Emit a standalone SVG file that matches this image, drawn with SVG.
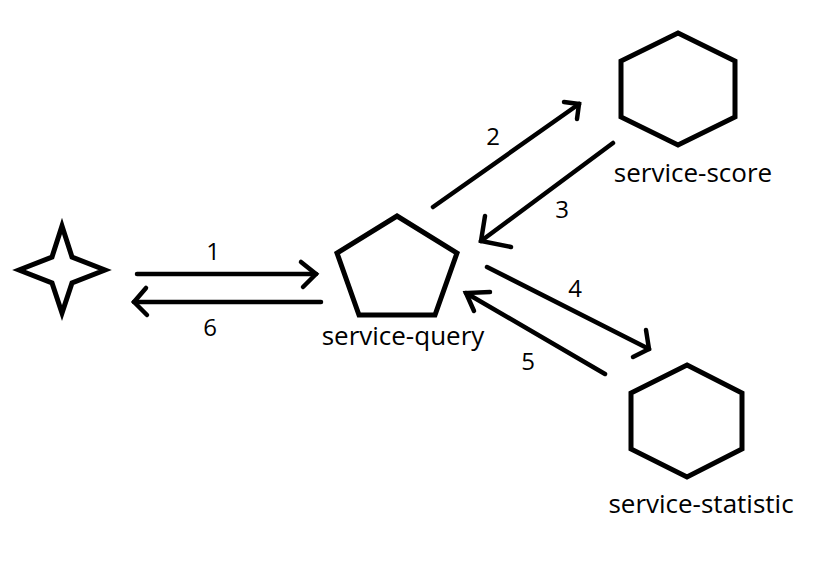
<svg xmlns="http://www.w3.org/2000/svg" width="840" height="565" viewBox="0 0 840 565">
<style>
.shape{fill:none;stroke:#000;stroke-width:5;stroke-linejoin:miter}
.con{fill:none;stroke:#000;stroke-width:4.5;stroke-linecap:round;stroke-linejoin:miter}
.lbl{font-family:"Open Sans","DejaVu Sans",sans-serif;font-size:26px;fill:#000;text-anchor:middle}
.num{font-family:"Open Sans","DejaVu Sans",sans-serif;font-size:24px;fill:#000;text-anchor:middle}
</style>
<rect width="840" height="565" fill="#fff"/>
<g id="client">
<polygon class="shape" points="62,226 72,257 105,270 72,283 62,313 52,283 19,270 52,257"/>
</g>
<g id="service-query">
<polygon class="shape" points="397,216 457,253 435,315 359,315 337,253"/>
<text class="lbl" x="403" y="345">service-query</text>
</g>
<g id="service-score">
<polygon class="shape" points="678,33 735,61 735,117 678,145 621,117 621,61"/>
<text class="lbl" x="693" y="182">service-score</text>
</g>
<g id="service-statistic">
<polygon class="shape" points="687,365 742,393 742,449 687,477 631,449 631,393"/>
<text class="lbl" x="701" y="513">service-statistic</text>
</g>
<g id="connectors">
<line class="con" x1="137" y1="274" x2="316" y2="274"/>
<polyline class="con" points="301,262 316,274 303,287"/>
<line class="con" x1="321" y1="302" x2="134" y2="302"/>
<polyline class="con" points="146,288 134,302 147,315"/>
<line class="con" x1="433" y1="207" x2="579" y2="104"/>
<polyline class="con" points="564,102 579,104 577,119"/>
<line class="con" x1="613" y1="143" x2="481" y2="241"/>
<polyline class="con" points="485,216 481,241 511,247"/>
<line class="con" x1="487" y1="267" x2="649" y2="349"/>
<polyline class="con" points="646,330 649,349 633,357"/>
<line class="con" x1="605" y1="374" x2="466" y2="293"/>
<polyline class="con" points="490,292 466,293 474,311"/>
<text class="num" x="213" y="260">1</text>
<text class="num" x="493" y="145">2</text>
<text class="num" x="562" y="218">3</text>
<text class="num" x="575" y="297">4</text>
<text class="num" x="528" y="370">5</text>
<text class="num" x="210" y="336">6</text>
</g>
</svg>
